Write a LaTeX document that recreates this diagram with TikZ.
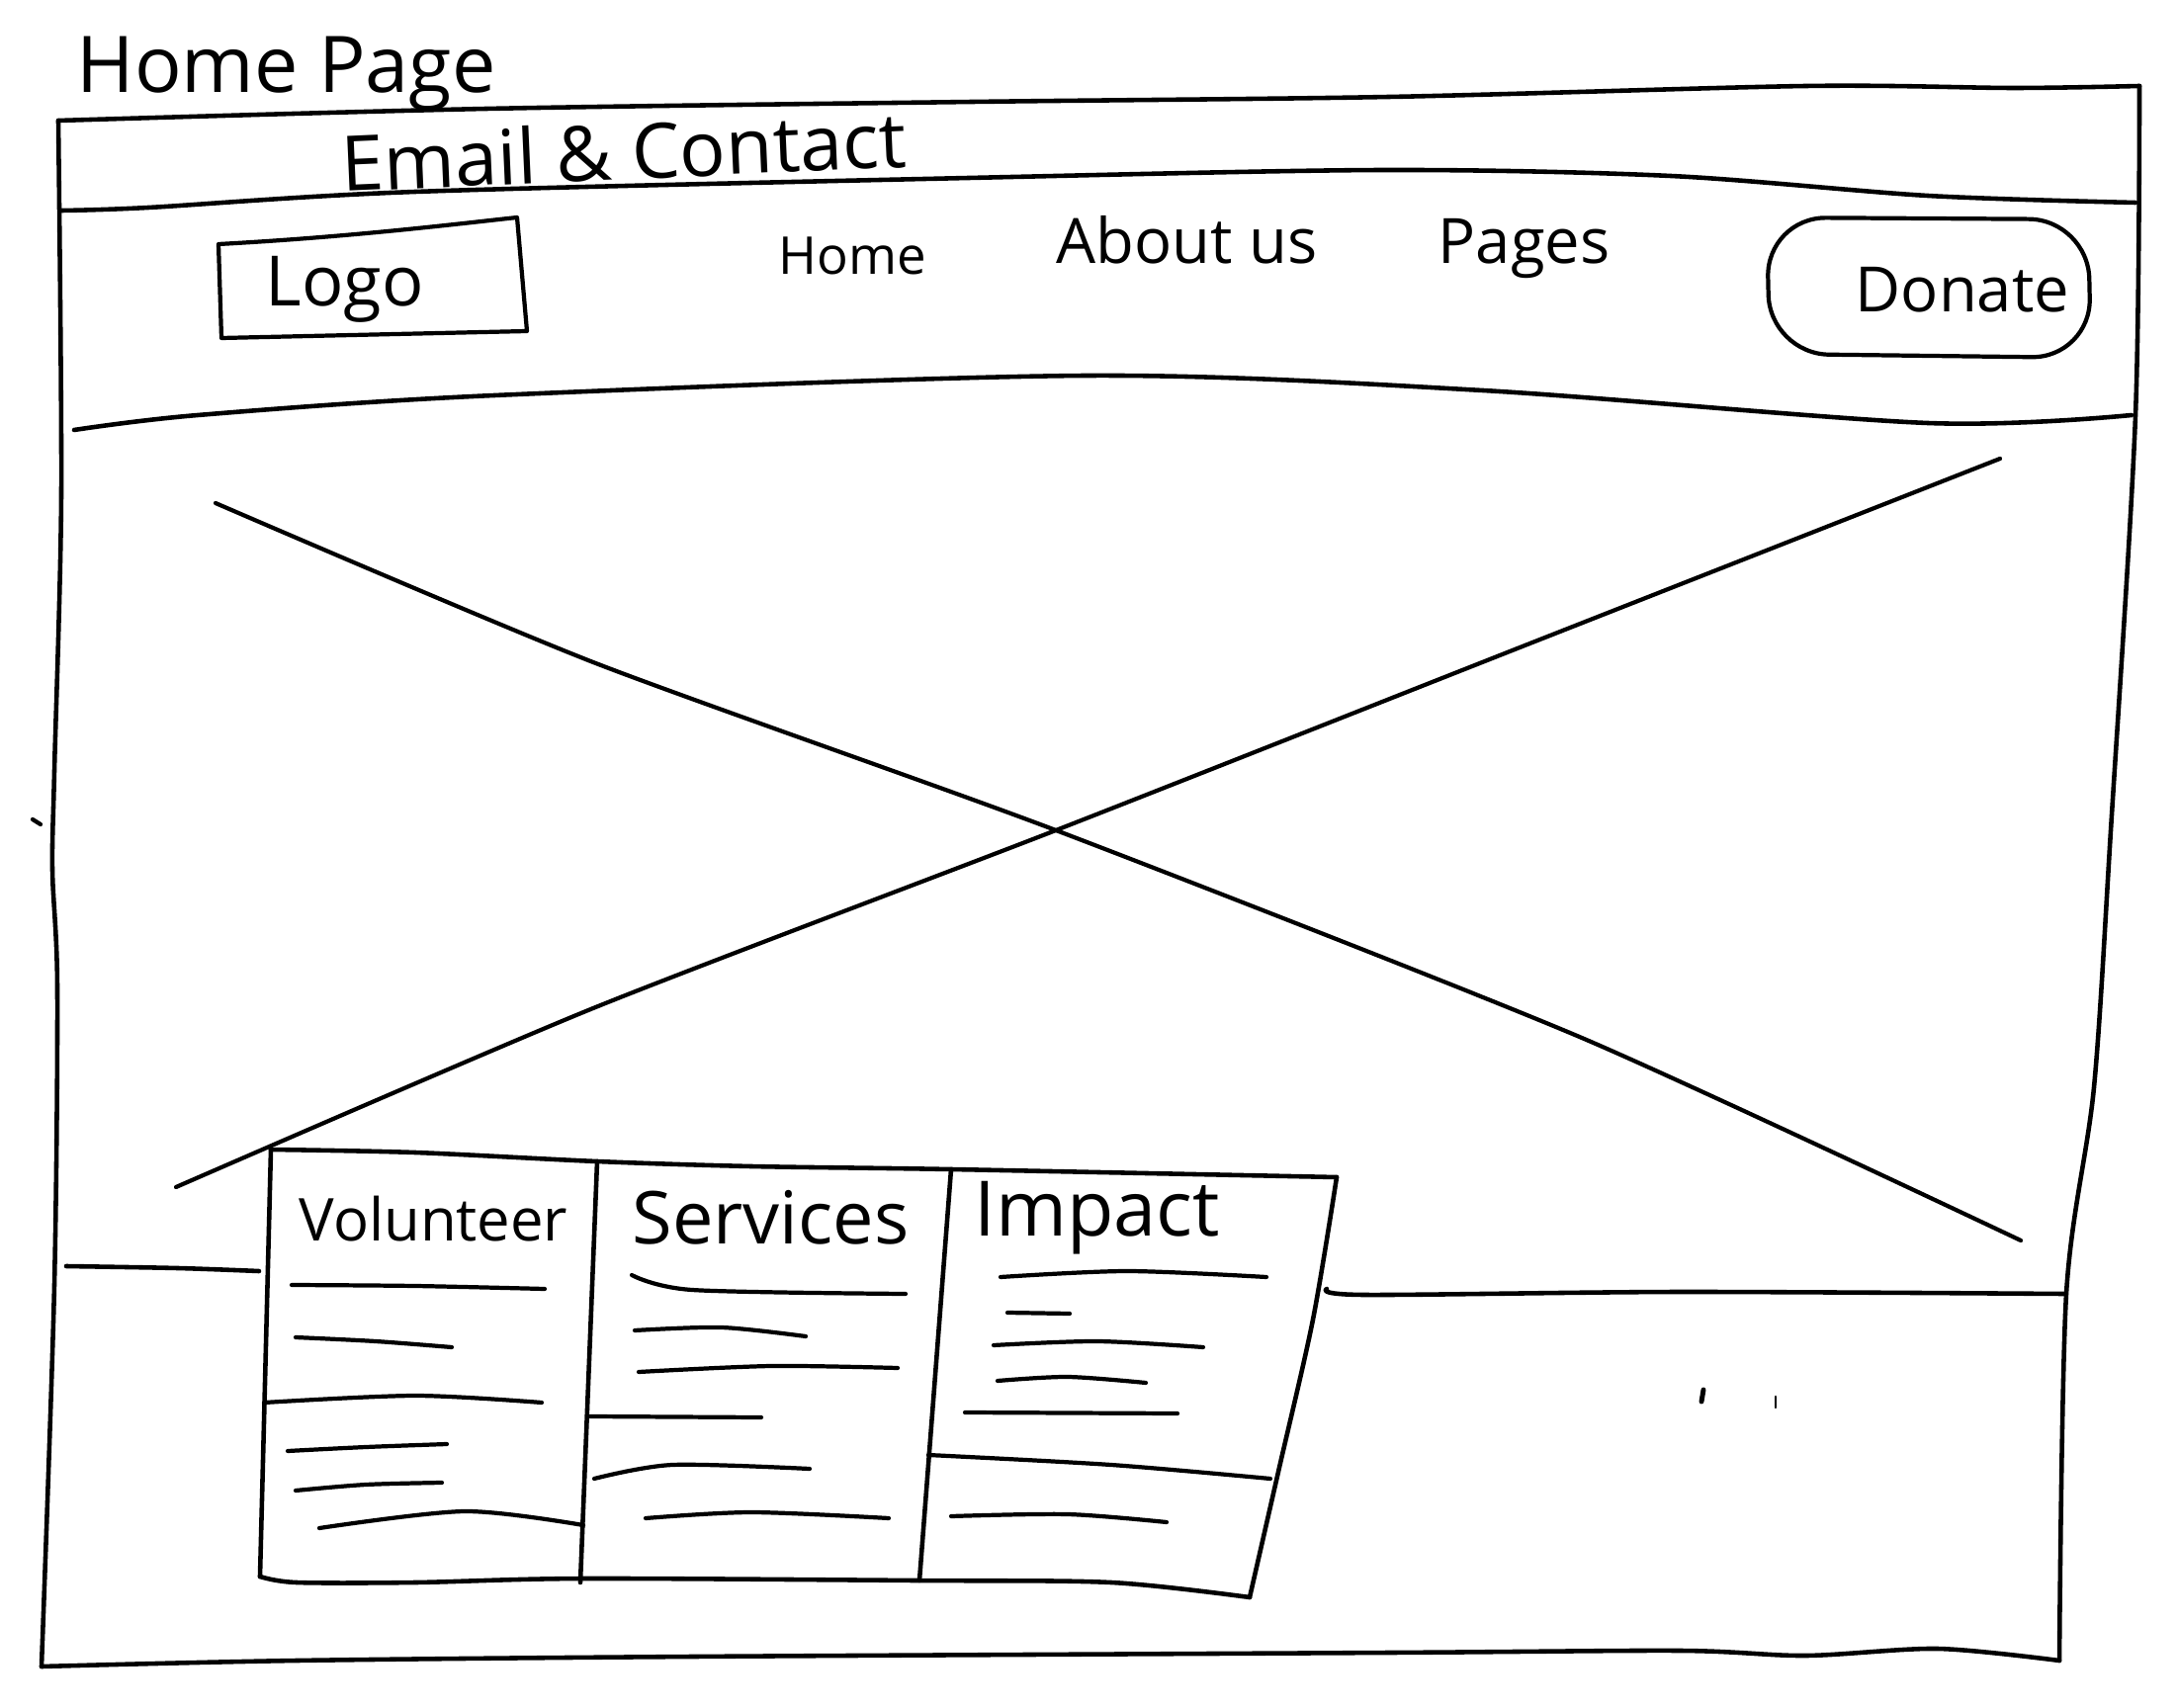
\documentclass[tikz,border=0pt]{standalone}
\usepackage{fontspec}
\setmainfont{Open Sans}
\begin{document}
\begin{tikzpicture}[x=0.01cm,y=-0.01cm,line cap=round,line join=round,
  ink/.style={line width=1.3pt,black},
  fine/.style={line width=1.2pt,black},
  lbl/.style={inner sep=0pt,anchor=base west},
  nav/.style={font=\fontsize{18}{22}\selectfont}]
\useasboundingbox (0,0) rectangle (2203,1728);

% title
\node[lbl,font=\fontsize{22.5}{27}\selectfont] (title) at (77,94) {Home Page};

% outer frame
\draw[ink] plot[smooth,tension=0.5] coordinates {(59,122) (492,110) (984,103) (1405,98) (1827,87) (2037,89) (2164,87)};
\draw[ink] plot[smooth,tension=0.5] coordinates {(2164,87) (2160,420) (2135,840) (2118,1100) (2090,1309) (2083,1680)};
\draw[ink] plot[smooth,tension=0.5] coordinates {(42,1686) (300,1680) (700,1676) (1405,1672) (1700,1670) (1826,1675) (1960,1668) (2083,1680)};
\draw[ink] plot[smooth,tension=0.5] coordinates {(59,122) (62,500) (55,780) (53,880) (58,1000) (55,1300) (42,1686)};
\draw[fine] (33,829) -- (41,834);

% header band
\draw[ink] plot[smooth,tension=0.5] coordinates {(62,213) (150,210) (420,194) (980,180) (1400,172) (1690,178) (1950,198) (2160,205)};
\node[lbl,font=\fontsize{22}{26}\selectfont,rotate=2.5] (email) at (346,194) {Email \& Contact};

% nav band
\draw[fine] (221,247) .. controls (350,240) and (450,228) .. (523,220) -- (533,335) -- (224,342) -- cycle;
\node[lbl,font=\fontsize{20}{24}\selectfont] (logo) at (268,310) {Logo};
\node[lbl,font=\fontsize{15}{18}\selectfont] (home) at (787,278) {Home};
\node[lbl,nav] (about) at (1068,267) {About us};
\node[lbl,nav] (pages) at (1454,267) {Pages};
\draw[fine,rounded corners=0.6cm] (1787,220) -- (2112,222) -- (2115,362) -- (1790,358) -- cycle;
\node[lbl,nav] (donate) at (1876,316) {Donate};
\draw[ink] plot[smooth,tension=0.5] coordinates {(75,435) (200,420) (500,400) (1100,380) (1500,395) (1950,428) (2156,420)};

% hero image cross
\draw[fine] plot[smooth,tension=0.4] coordinates {(218,509) (600,670) (1068,840) (1600,1050) (2044,1255)};
\draw[fine] plot[smooth,tension=0.4] coordinates {(178,1201) (600,1020) (1068,840) (1550,650) (2023,464)};

% footer line
\draw[ink] plot[smooth,tension=0.5] coordinates {(67,1281) (180,1283) (262,1286)};
\draw[ink] plot[smooth,tension=0.5] coordinates {(1342,1304) (1380,1310) (1700,1307) (2088,1309)};

% three-column card
\draw[ink] plot[smooth,tension=0.5] coordinates {(274,1163) (420,1166) (604,1175) (760,1180) (962,1183) (1352,1191)};
\draw[ink] plot[smooth,tension=0.5] coordinates {(1352,1191) (1328,1335) (1293,1489) (1264,1616)};
\draw[ink] plot[smooth,tension=0.5] coordinates {(263,1595) (300,1601) (420,1601) (590,1597) (927,1599) (1124,1601) (1264,1616)};
\draw[ink] plot[smooth,tension=0.5] coordinates {(274,1163) (268,1400) (263,1595)};
\draw[ink] (604,1175) -- (587,1601);
\draw[ink] (962,1183) -- (930,1599);

\node[lbl,font=\fontsize{17}{21}\selectfont] (vol) at (302,1255) {Volunteer};
\node[lbl,font=\fontsize{21}{25}\selectfont] (serv) at (639,1258) {Services};
\node[lbl,font=\fontsize{22}{26}\selectfont] (imp) at (985,1250) {Impact};

% column 1 lines
\draw[fine] plot[smooth] coordinates {(295,1300) (420,1301) (551,1304)};
\draw[fine] plot[smooth] coordinates {(299,1353) (380,1357) (457,1363)};
\draw[fine] plot[smooth] coordinates {(267,1419) (420,1412) (548,1419)};
\draw[fine] plot[smooth] coordinates {(291,1468) (370,1464) (452,1461)};
\draw[fine] plot[smooth] coordinates {(299,1508) (370,1502) (447,1500)};
\draw[fine] plot[smooth] coordinates {(323,1546) (470,1529) (590,1543)};

% column 2 lines
\draw[fine] plot[smooth] coordinates {(639,1290) (700,1305) (916,1309)};
\draw[fine] plot[smooth] coordinates {(642,1346) (730,1343) (815,1352)};
\draw[fine] plot[smooth] coordinates {(646,1388) (780,1382) (908,1384)};
\draw[fine] (597,1433) -- (770,1434);
\draw[fine] plot[smooth] coordinates {(601,1496) (680,1482) (819,1486)};
\draw[fine] plot[smooth] coordinates {(653,1536) (760,1530) (899,1536)};

% column 3 lines
\draw[fine] plot[smooth] coordinates {(1012,1292) (1140,1286) (1281,1292)};
\draw[fine] (1019,1328) -- (1082,1329);
\draw[fine] plot[smooth] coordinates {(1005,1361) (1110,1357) (1217,1363)};
\draw[fine] plot[smooth] coordinates {(1009,1397) (1080,1393) (1159,1399)};
\draw[fine] (976,1429) -- (1191,1430);
\draw[fine] plot[smooth] coordinates {(939,1472) (1124,1482) (1285,1496)};
\draw[fine] plot[smooth] coordinates {(962,1534) (1080,1532) (1180,1540)};

% stray marks
\draw[line width=1.4pt] (1723,1406) -- (1721,1418);
\draw[line width=0.8pt] (1796,1413) -- (1796,1424);
\end{tikzpicture}
\end{document}
